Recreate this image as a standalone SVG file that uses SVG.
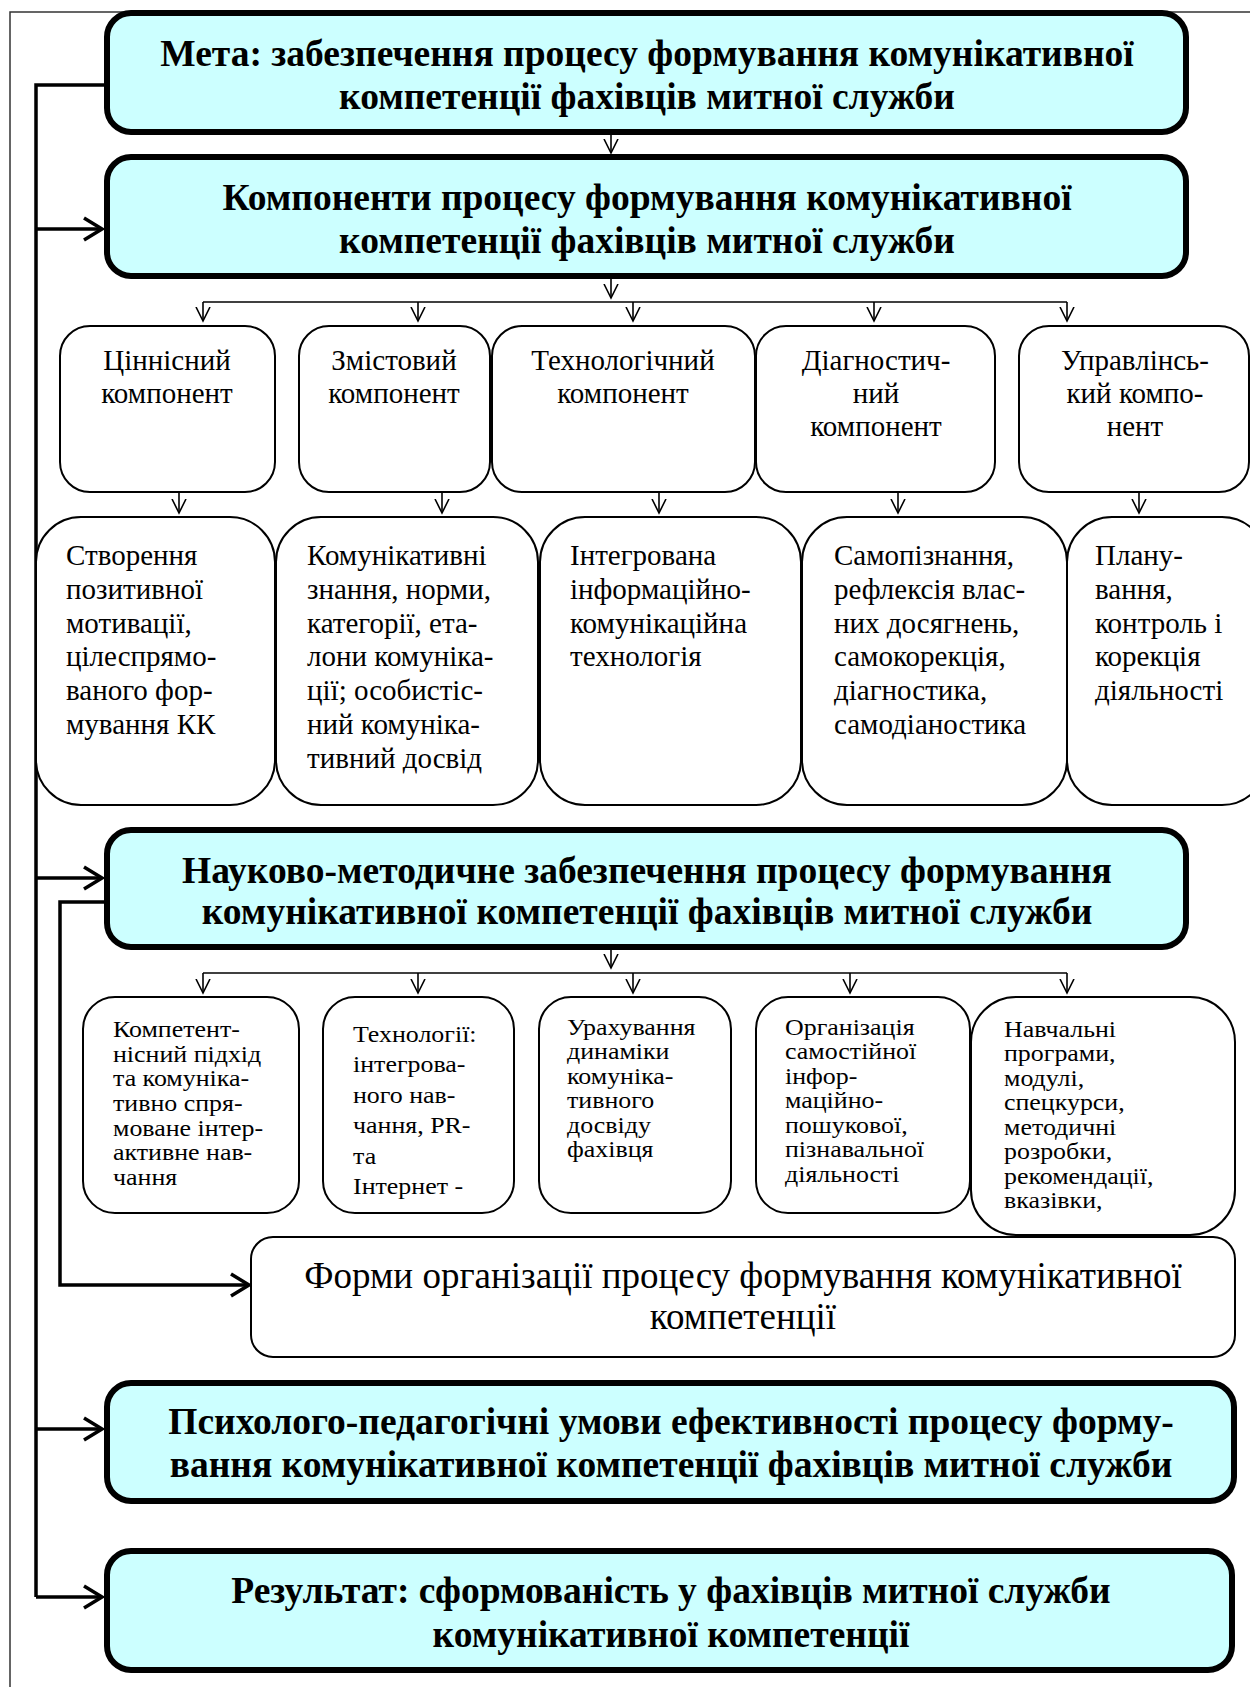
<svg xmlns="http://www.w3.org/2000/svg" width="1250" height="1687" viewBox="0 0 1250 1687">
<defs>
<style>
.main{fill:#CCFFFF;stroke:#000;stroke-width:6}
.box{fill:#fff;stroke:#000;stroke-width:2}
.tb{font-family:"Liberation Serif","Times New Roman",serif;font-weight:bold;font-size:37.5px;text-anchor:middle;fill:#000}
.t{font-family:"Liberation Serif","Times New Roman",serif;font-size:29px;fill:#000}
.tc{text-anchor:middle}
.ts{font-family:"Liberation Serif","Times New Roman",serif;font-size:24px;fill:#000}
.tf{font-family:"Liberation Serif","Times New Roman",serif;font-size:37px;text-anchor:middle;fill:#000}
.thin{fill:none;stroke:#000;stroke-width:1.6}
.thick{fill:none;stroke:#000;stroke-width:3.5}
</style>
<marker id="sa" markerWidth="16" markerHeight="18" refX="14" refY="8" orient="auto" markerUnits="userSpaceOnUse" viewBox="0 0 16 16">
<path d="M0,1 L14,8 L0,15" fill="none" stroke="#000" stroke-width="1.6"/>
</marker>
<marker id="ba" markerWidth="22" markerHeight="26" refX="19" refY="12" orient="auto" markerUnits="userSpaceOnUse" viewBox="0 0 22 24">
<path d="M1,1 L19,12 L1,23" fill="none" stroke="#000" stroke-width="3.5"/>
</marker>
</defs>
<rect width="1250" height="1687" fill="#fff"/>
<path d="M10,1687 L10,12 L1250,12" fill="none" stroke="#333" stroke-width="1.5"/>

<g id="connectors">
<path class="thick" d="M104,85 L36,85 L36,1597"/>
<path class="thick" d="M36,229 L102,229" marker-end="url(#ba)"/>
<path class="thick" d="M36,878 L102,878" marker-end="url(#ba)"/>
<path class="thick" d="M36,1429 L102,1429" marker-end="url(#ba)"/>
<path class="thick" d="M36,1597 L102,1597" marker-end="url(#ba)"/>
<path class="thick" d="M104,902 L60,902 L60,1285 L249,1285" marker-end="url(#ba)"/>
<path class="thin" d="M611,135 L611,153" marker-end="url(#sa)"/>
<path class="thin" d="M611,279 L611,298" marker-end="url(#sa)"/>
<path class="thin" d="M203,302 L1067,302"/>
<path class="thin" d="M203,302 L203,321" marker-end="url(#sa)"/>
<path class="thin" d="M418,302 L418,321" marker-end="url(#sa)"/>
<path class="thin" d="M633,302 L633,321" marker-end="url(#sa)"/>
<path class="thin" d="M874,302 L874,321" marker-end="url(#sa)"/>
<path class="thin" d="M1067,302 L1067,321" marker-end="url(#sa)"/>
<path class="thin" d="M179,493 L179,513" marker-end="url(#sa)"/>
<path class="thin" d="M442,493 L442,513" marker-end="url(#sa)"/>
<path class="thin" d="M659,493 L659,513" marker-end="url(#sa)"/>
<path class="thin" d="M898,493 L898,513" marker-end="url(#sa)"/>
<path class="thin" d="M1139,493 L1139,513" marker-end="url(#sa)"/>
<path class="thin" d="M611,950 L611,968" marker-end="url(#sa)"/>
<path class="thin" d="M203,973 L1067,973"/>
<path class="thin" d="M203,973 L203,993" marker-end="url(#sa)"/>
<path class="thin" d="M418,973 L418,993" marker-end="url(#sa)"/>
<path class="thin" d="M633,973 L633,993" marker-end="url(#sa)"/>
<path class="thin" d="M850,973 L850,993" marker-end="url(#sa)"/>
<path class="thin" d="M1067,973 L1067,993" marker-end="url(#sa)"/>
</g>

<g id="goal">
<rect class="main" x="107" y="13" width="1079" height="119" rx="24"/>
<text class="tb" x="647" y="66">Мета: забезпечення процесу формування комунікативної</text>
<text class="tb" x="647" y="109">компетенції фахівців митної служби</text>
</g>
<g id="components">
<rect class="main" x="107" y="157" width="1079" height="119" rx="24"/>
<text class="tb" x="647" y="210">Компоненти процесу формування комунікативної</text>
<text class="tb" x="647" y="253">компетенції фахівців митної служби</text>
</g>

<g id="c1">
<rect class="box" x="60" y="326" width="215" height="166" rx="30"/>
<text class="t tc" x="167" y="370">Ціннісний</text>
<text class="t tc" x="167" y="403">компонент</text>
</g>
<g id="c2">
<rect class="box" x="299" y="326" width="191" height="166" rx="30"/>
<text class="t tc" x="394" y="370">Змістовий</text>
<text class="t tc" x="394" y="403">компонент</text>
</g>
<g id="c3">
<rect class="box" x="492" y="326" width="263" height="166" rx="30"/>
<text class="t tc" x="623" y="370">Технологічний</text>
<text class="t tc" x="623" y="403">компонент</text>
</g>
<g id="c4">
<rect class="box" x="756" y="326" width="239" height="166" rx="30"/>
<text class="t tc" x="876" y="370">Діагностич-</text>
<text class="t tc" x="876" y="403">ний</text>
<text class="t tc" x="876" y="436">компонент</text>
</g>
<g id="c5">
<rect class="box" x="1019" y="326" width="230" height="166" rx="30"/>
<text class="t tc" x="1135" y="370">Управлінсь-</text>
<text class="t tc" x="1135" y="403">кий компо-</text>
<text class="t tc" x="1135" y="436">нент</text>
</g>

<g id="d1">
<rect class="box" x="36" y="517" width="239" height="288" rx="45"/>
<text class="t"><tspan x="66" y="565">Створення</tspan><tspan x="66" y="599">позитивної</tspan><tspan x="66" y="633">мотивації,</tspan><tspan x="66" y="666">цілеспрямо-</tspan><tspan x="66" y="700">ваного фор-</tspan><tspan x="66" y="734">мування КК</tspan></text>
</g>
<g id="d2">
<rect class="box" x="276" y="517" width="262" height="288" rx="45"/>
<text class="t"><tspan x="307" y="565">Комунікативні</tspan><tspan x="307" y="599">знання, норми,</tspan><tspan x="307" y="633">категорії, ета-</tspan><tspan x="307" y="666">лони комуніка-</tspan><tspan x="307" y="700">ції; особистіс-</tspan><tspan x="307" y="734">ний комуніка-</tspan><tspan x="307" y="768">тивний досвід</tspan></text>
</g>
<g id="d3">
<rect class="box" x="540" y="517" width="261" height="288" rx="45"/>
<text class="t"><tspan x="570" y="565">Інтегрована</tspan><tspan x="570" y="599">інформаційно-</tspan><tspan x="570" y="633">комунікаційна</tspan><tspan x="570" y="666">технологія</tspan></text>
</g>
<g id="d4">
<rect class="box" x="802" y="517" width="265" height="288" rx="45"/>
<text class="t"><tspan x="834" y="565">Самопізнання,</tspan><tspan x="834" y="599">рефлексія влас-</tspan><tspan x="834" y="633">них досягнень,</tspan><tspan x="834" y="666">самокорекція,</tspan><tspan x="834" y="700">діагностика,</tspan><tspan x="834" y="734">самодіаностика</tspan></text>
</g>
<g id="d5">
<rect class="box" x="1067" y="517" width="200" height="288" rx="45"/>
<text class="t"><tspan x="1095" y="565">Плану-</tspan><tspan x="1095" y="599">вання,</tspan><tspan x="1095" y="633">контроль і</tspan><tspan x="1095" y="666">корекція</tspan><tspan x="1095" y="700">діяльності</tspan></text>
</g>

<g id="method">
<rect class="main" x="107" y="830" width="1079" height="117" rx="24"/>
<text class="tb" x="647" y="883">Науково-методичне забезпечення процесу формування</text>
<text class="tb" x="647" y="924">комунікативної компетенції фахівців митної служби</text>
</g>

<g id="m1">
<rect class="box" x="83" y="997" width="216" height="216" rx="32"/>
<text class="ts" transform="translate(113,0) scale(1.08,1)"><tspan x="0" y="1037">Компетент-</tspan><tspan x="0" y="1062">нісний підхід</tspan><tspan x="0" y="1086">та комуніка-</tspan><tspan x="0" y="1111">тивно спря-</tspan><tspan x="0" y="1136">моване інтер-</tspan><tspan x="0" y="1160">активне нав-</tspan><tspan x="0" y="1185">чання</tspan></text>
</g>
<g id="m2">
<rect class="box" x="323" y="997" width="191" height="216" rx="32"/>
<text class="ts" transform="translate(353,0) scale(1.08,1)"><tspan x="0" y="1042">Технології:</tspan><tspan x="0" y="1072">інтегрова-</tspan><tspan x="0" y="1103">ного нав-</tspan><tspan x="0" y="1133">чання, PR-</tspan><tspan x="0" y="1164">та</tspan><tspan x="0" y="1194">Інтернет -</tspan></text>
</g>
<g id="m3">
<rect class="box" x="539" y="997" width="192" height="216" rx="32"/>
<text class="ts" transform="translate(567,0) scale(1.08,1)"><tspan x="0" y="1035">Урахування</tspan><tspan x="0" y="1059">динаміки</tspan><tspan x="0" y="1084">комуніка-</tspan><tspan x="0" y="1108">тивного</tspan><tspan x="0" y="1133">досвіду</tspan><tspan x="0" y="1157">фахівця</tspan></text>
</g>
<g id="m4">
<rect class="box" x="756" y="997" width="214" height="216" rx="32"/>
<text class="ts" transform="translate(785,0) scale(1.08,1)"><tspan x="0" y="1035">Організація</tspan><tspan x="0" y="1059">самостійної</tspan><tspan x="0" y="1084">інфор-</tspan><tspan x="0" y="1108">маційно-</tspan><tspan x="0" y="1133">пошукової,</tspan><tspan x="0" y="1157">пізнавальної</tspan><tspan x="0" y="1182">діяльності</tspan></text>
</g>
<g id="m5">
<rect class="box" x="971" y="997" width="264" height="238" rx="45"/>
<text class="ts" transform="translate(1004,0) scale(1.08,1)"><tspan x="0" y="1037">Навчальні</tspan><tspan x="0" y="1061">програми,</tspan><tspan x="0" y="1086">модулі,</tspan><tspan x="0" y="1110">спецкурси,</tspan><tspan x="0" y="1135">методичні</tspan><tspan x="0" y="1159">розробки,</tspan><tspan x="0" y="1184">рекомендації,</tspan><tspan x="0" y="1208">вказівки,</tspan></text>
</g>

<g id="forms">
<rect class="box" x="251" y="1237" width="984" height="120" rx="22"/>
<text class="tf" x="743" y="1288">Форми організації процесу формування комунікативної</text>
<text class="tf" x="743" y="1329">компетенції</text>
</g>

<g id="conditions">
<rect class="main" x="107" y="1383" width="1127" height="118" rx="24"/>
<text class="tb" x="671" y="1434">Психолого-педагогічні умови ефективності процесу форму-</text>
<text class="tb" x="671" y="1477">вання комунікативної компетенції фахівців митної служби</text>
</g>
<g id="result">
<rect class="main" x="107" y="1551" width="1125" height="119" rx="24"/>
<text class="tb" x="671" y="1603">Результат: сформованість у фахівців митної служби</text>
<text class="tb" x="671" y="1647">комунікативної компетенції</text>
</g>
</svg>
